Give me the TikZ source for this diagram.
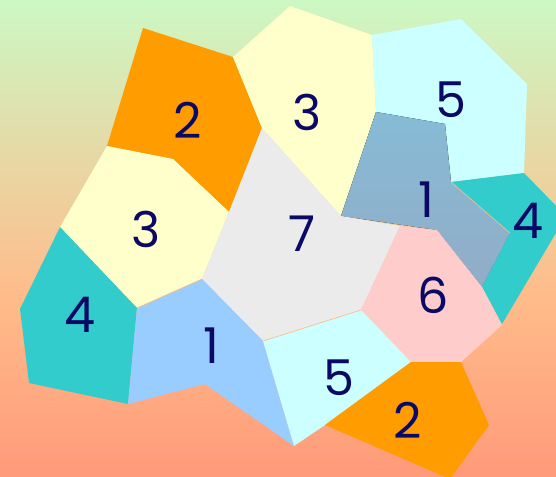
\documentclass[tikz,border=0pt]{standalone}
\usepackage{fontspec}
\setsansfont{Poppins}
\usepackage{tikz}
\usetikzlibrary{positioning}
\usepackage{xcolor}
\definecolor{mapmint}{HTML}{CCF8C4}
\definecolor{mappeach}{HTML}{FFBC8A}
\definecolor{mapsalmon}{HTML}{FF9A7A}
\definecolor{maporange}{HTML}{FF9C00}
\definecolor{mapcream}{HTML}{FFFFCC}
\definecolor{mapice}{HTML}{CCFFFF}
\definecolor{mapteal}{HTML}{33CCCC}
\definecolor{mapsky}{HTML}{99CCFF}
\definecolor{mapash}{HTML}{EBEBEB}
\definecolor{mapblush}{HTML}{FFCCCC}
\definecolor{mapsteeltop}{HTML}{86BBD5}
\definecolor{mapsteelbot}{HTML}{92ACC8}
\definecolor{mapnavy}{HTML}{0A0A66}

\begin{document}
\begin{tikzpicture}[
  x=0.75pt, y=-0.75pt,
  cell/.style={line width=0pt},
  seam/.style={draw=mappeach, line width=0.5pt},
  num/.style={font=\sffamily\fontsize{37}{37}\selectfont, text=mapnavy,
    inner sep=0pt, anchor=center}
]
  \useasboundingbox (0,0) rectangle (556,476);
  \clip (0,0) rectangle (556,476);

  % Background
  \fill[top color=mapmint, bottom color=mappeach] (0,0) rectangle (556,296);
  \fill[top color=mappeach, bottom color=mapsalmon] (0,295) rectangle (556,476);

  % Top row
  \fill[cell, maporange] (143,28) -- (233,57) -- (262,128) -- (229,212)
    -- (173,159) -- (107,146) -- cycle;
  \fill[cell, mapcream] (233,57) -- (290,6) -- (372,35) -- (376,112)
    -- (341,216) -- (262,128) -- cycle;
  \fill[cell, mapice] (372,35) -- (461,19) -- (527,84) -- (524,173)
    -- (451,182) -- (445,124) -- (376,112) -- cycle;
  \fill[cell, top color=mapsteeltop, bottom color=mapsteelbot]
    (376,112) -- (445,124) -- (451,182) -- (510,233) -- (482,287)
    -- (437,230) -- (341,216) -- cycle;
  \fill[cell, mapteal] (451,182) -- (524,173) -- (566,216) -- (502,324)
    -- (482,287) -- (510,233) -- cycle;

  % Middle row
  \fill[cell, mapcream] (107,146) -- (173,159) -- (229,212) -- (202,279)
    -- (137,308) -- (60,227) -- cycle;
  \fill[cell, mapash] (262,128) -- (341,216) -- (400,226) -- (361,310)
    -- (263,341) -- (202,279) -- (229,212) -- cycle;
  \fill[cell, mapblush] (400,226) -- (437,230) -- (482,287) -- (502,325)
    -- (461,362) -- (411,362) -- (361,310) -- cycle;

  % Bottom row
  \fill[cell, mapteal] (60,227) -- (137,308) -- (128,404) -- (29,383)
    -- (20,309) -- cycle;
  \fill[cell, mapsky] (137,308) -- (202,279) -- (263,341) -- (294,446)
    -- (205,384) -- (128,404) -- cycle;
  \fill[cell, mapice] (263,341) -- (361,310) -- (411,362) -- (325,425)
    -- (294,446) -- cycle;
  \fill[cell, maporange] (325,425) -- (411,362) -- (461,362) -- (489,425)
    -- (450,479) -- cycle;

  % Seams
  \path[seam] (137,308) -- (202,279);
  \path[seam] (263,341) -- (361,310);
  \path[seam] (451,182) -- (510,233);

  % Labels
  \foreach \n/\x/\y/\txt in {a/188/120/2, b/307/112/3, c/451/100/5,
    d/426/200/1, e/528/221/4, f/146/229/3, g/302/234/7, h/80/315/4,
    i/211/346/1, j/433/295/6, k/339/378/5, l/408/420/2} {
    \node[num] (lbl\n) at (\x,\y) {\txt};
  }
\end{tikzpicture}
\end{document}
